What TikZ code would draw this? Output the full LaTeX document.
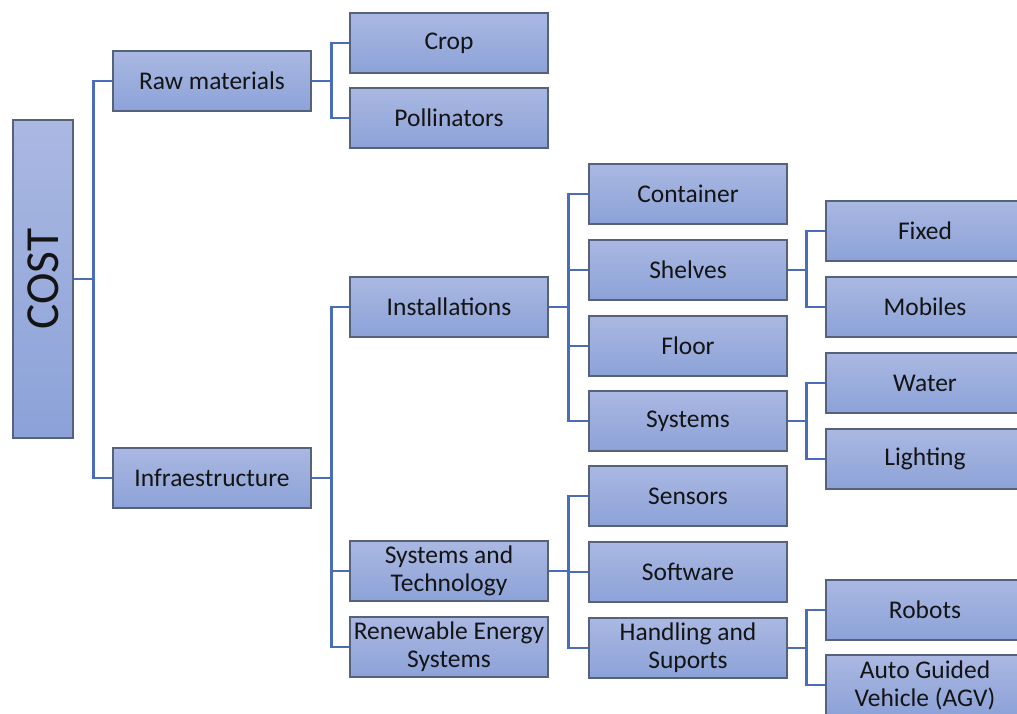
\documentclass[tikz,border=0pt]{standalone}
\usepackage{fontspec}
\setmainfont{Carlito}
\usetikzlibrary{positioning,calc}
\definecolor{boxtop}{HTML}{AAB8E2}
\definecolor{boxbot}{HTML}{8CA2D8}
\definecolor{boxline}{HTML}{56627C}
\definecolor{linkblue}{HTML}{4A6DB8}

\begin{document}
\begin{tikzpicture}
[x=0.02cm,y=-0.02cm,
item/.style={draw=boxline,line width=0.8pt,top color=boxtop,bottom color=boxbot,
minimum width=3.96cm,minimum height=1.2cm,inner sep=1pt,align=center,
text=black!92,font=\fontsize{14.5}{16}\selectfont},
link/.style={draw=linkblue,line width=1.5pt}]
\useasboundingbox (0,0) rectangle (1017,713);

\node (cost) at (43,279) [item,minimum width=1.2cm,minimum height=6.36cm,
  font=\fontsize{27}{28}\selectfont] {\rotatebox{90}{COST}};

\node (raw) at (212,81) [item] {Raw materials};
\node (infra) at (212,478) [item] {Infraestructure};

\node (crop) at (449,43) [item] {Crop};
\node (poll) at (449,118) [item] {Pollinators};
\node (inst) at (449,307) [item] {Installations};
\node (systech) at (449,571) [item] {Systems and\\Technology};
\node (renew) at (449,647) [item] {Renewable Energy\\Systems};

\node (cont) at (688,194) [item] {Container};
\node (shelv) at (688,270) [item] {Shelves};
\node (floor) at (688,346) [item] {Floor};
\node (syst) at (688,421) [item] {Systems};
\node (sens) at (688,496) [item] {Sensors};
\node (soft) at (688,572) [item] {Software};
\node (handl) at (688,648) [item] {Handling and\\Suports};

\node (fixed) at (925,231) [item] {Fixed};
\node (mob) at (925,307) [item] {Mobiles};
\node (water) at (925,383) [item] {Water};
\node (light) at (925,459) [item] {Lighting};
\node (robot) at (925,610) [item] {Robots};
\node (agv) at (925,685) [item] {Auto Guided\\Vehicle (AGV)};

% elbow links, parent -> children
\draw[link] (cost.east) -- ++(20,0) |- (raw.west);
\draw[link] (cost.east) -- ++(20,0) |- (infra.west);

\draw[link] (raw.east) -- ++(20,0) |- (crop.west);
\draw[link] (raw.east) -- ++(20,0) |- (poll.west);

\draw[link] (infra.east) -- ++(20,0) |- (inst.west);
\draw[link] (infra.east) -- ++(20,0) |- (systech.west);
\draw[link] (infra.east) -- ++(20,0) |- (renew.west);

\draw[link] (inst.east) -- ++(20,0) |- (cont.west);
\draw[link] (inst.east) -- ++(20,0) |- (shelv.west);
\draw[link] (inst.east) -- ++(20,0) |- (floor.west);
\draw[link] (inst.east) -- ++(20,0) |- (syst.west);

\draw[link] (systech.east) -- ++(20,0) |- (sens.west);
\draw[link] (systech.east) -- ++(20,0) |- (soft.west);
\draw[link] (systech.east) -- ++(20,0) |- (handl.west);

\draw[link] (shelv.east) -- ++(19,0) |- (fixed.west);
\draw[link] (shelv.east) -- ++(19,0) |- (mob.west);
\draw[link] (syst.east) -- ++(19,0) |- (water.west);
\draw[link] (syst.east) -- ++(19,0) |- (light.west);
\draw[link] (handl.east) -- ++(19,0) |- (robot.west);
\draw[link] (handl.east) -- ++(19,0) |- (agv.west);

\end{tikzpicture}
\end{document}
